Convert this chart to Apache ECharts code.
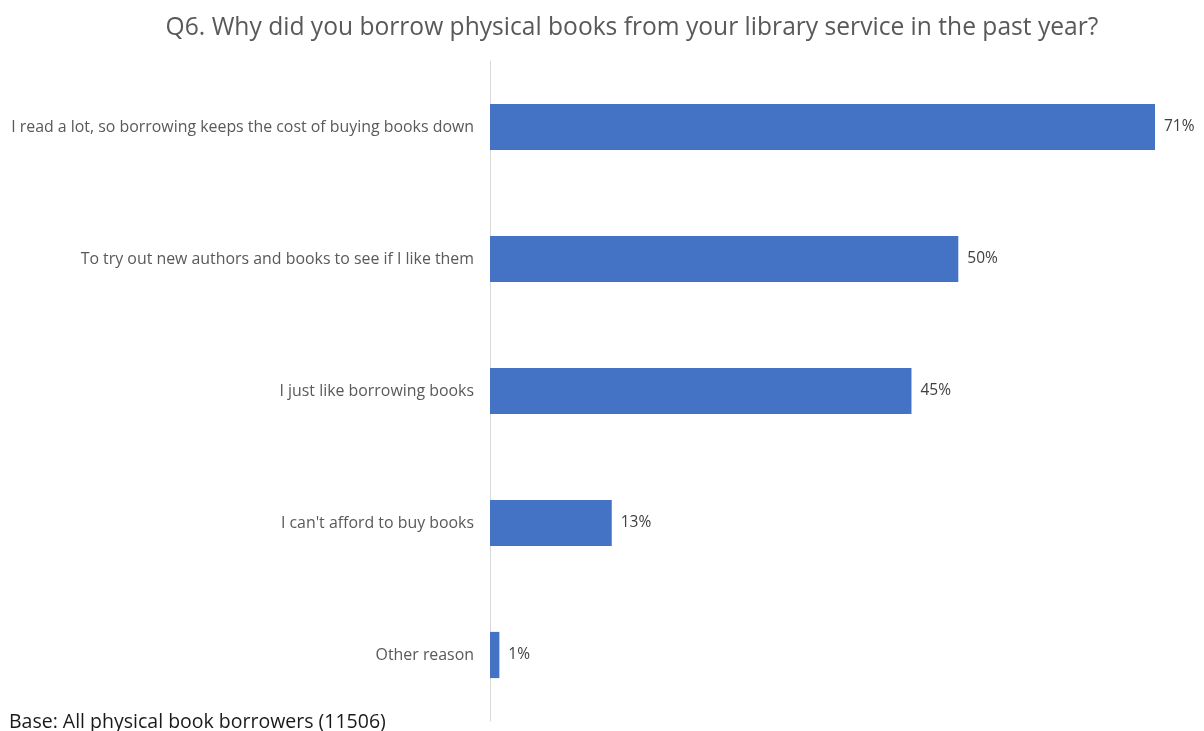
<!DOCTYPE html>
<html>
<head>
<meta charset="utf-8">
<script src="https://cdn.jsdelivr.net/npm/echarts@6/dist/echarts.min.js"></script>
<style>
  html, body { margin: 0; padding: 0; background: #fff; }
  #chart { width: 1204px; height: 731px; }
</style>
</head>
<body>
<div id="chart"></div>
<script>
// Reasons for borrowing physical books, top to bottom
const reasons = [
  "I read a lot, so borrowing keeps the cost of buying books down",
  "To try out new authors and books to see if I like them",
  "I just like borrowing books",
  "I can't afford to buy books",
  "Other reason"
];
// Share of respondents (%)
const shares = [71, 50, 45, 13, 1];

const titleText = "Q6. Why did you borrow physical books from your library service in the past year?";
const baseText = "Base: All physical book borrowers (11506)";

const FONT = "'Open Sans', Lato, sans-serif";

const chart = echarts.init(document.getElementById('chart'), null, { renderer: 'canvas' });
chart.setOption({
  animation: false,
  backgroundColor: '#ffffff',
  title: [
    {
      text: titleText,
      left: 627, top: 10, textAlign: 'center',
      textStyle: { fontFamily: FONT, fontSize: 24.6, fontWeight: 'normal', color: '#595959' }
    },
    {
      text: baseText,
      left: 4, top: 707,
      textStyle: { fontFamily: FONT, fontSize: 19.5, fontWeight: 'normal', color: '#1a1a1a' }
    }
  ],
  grid: { left: 490, right: 49, top: 61, bottom: 10, containLabel: false },
  xAxis: {
    type: 'value', min: 0, max: 71,
    show: false
  },
  yAxis: {
    type: 'category',
    data: reasons,
    inverse: true,
    axisLine: { show: true, lineStyle: { color: '#d9d9d9', width: 1 } },
    axisTick: { show: false },
    axisLabel: {
      margin: 16,
      fontFamily: FONT, fontSize: 15.9, color: '#595959'
    },
    splitLine: { show: false }
  },
  series: [{
    type: 'bar',
    data: shares,
    barWidth: '35%',
    itemStyle: { color: '#4472C4' },
    label: {
      show: true, position: 'right', distance: 9,
      formatter: p => p.value + '%',
      fontFamily: FONT, fontSize: 15.5, color: '#404040'
    }
  }]
});
</script>
</body>
</html>
